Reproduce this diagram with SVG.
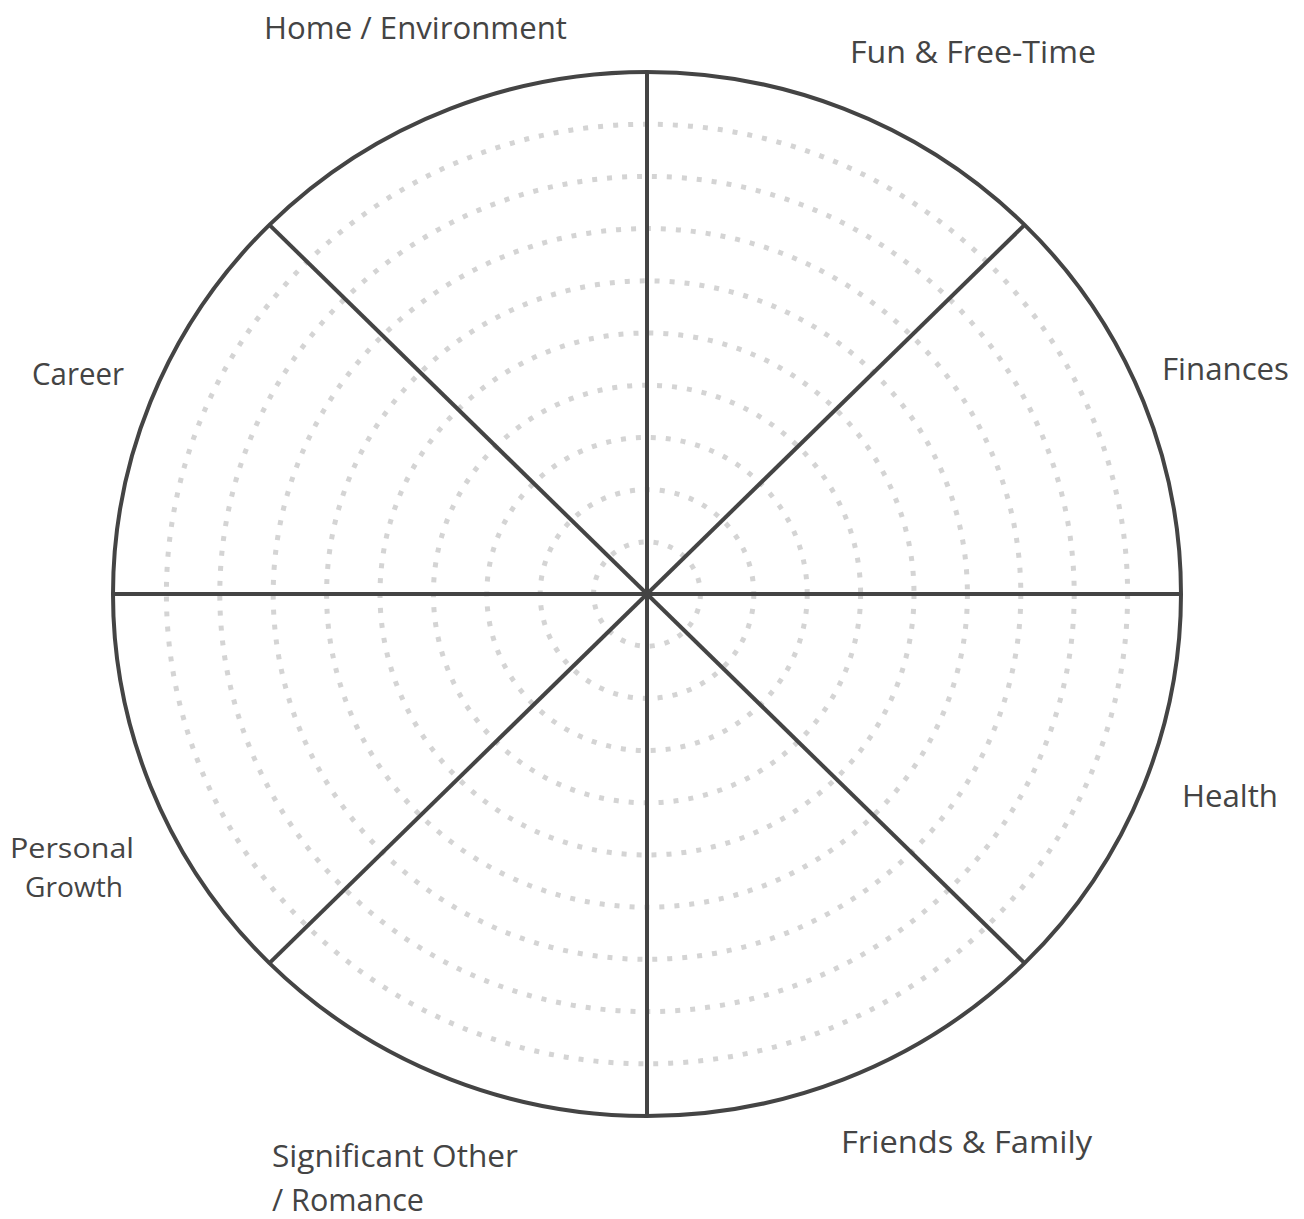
<svg xmlns="http://www.w3.org/2000/svg" width="1304" height="1219" viewBox="0 0 1304 1219">
<style>
.lbl{font-family:"Open Sans","Noto Sans",sans-serif;font-size:31px;fill:#444;}
.tight{font-size:28px;}
.ring{fill:none;stroke:#d4d4d4;stroke-width:5;stroke-dasharray:5 10;}
.spoke{stroke:#444;stroke-width:4;stroke-linecap:butt;}
</style>
<rect width="1304" height="1219" fill="#fff"/>
<g id="rings">
<ellipse class="ring" cx="647" cy="594" rx="53.4" ry="52.2"/>
<ellipse class="ring" cx="647" cy="594" rx="106.8" ry="104.4"/>
<ellipse class="ring" cx="647" cy="594" rx="160.2" ry="156.6"/>
<ellipse class="ring" cx="647" cy="594" rx="213.6" ry="208.8"/>
<ellipse class="ring" cx="647" cy="594" rx="267" ry="261"/>
<ellipse class="ring" cx="647" cy="594" rx="320.4" ry="313.2"/>
<ellipse class="ring" cx="647" cy="594" rx="373.8" ry="365.4"/>
<ellipse class="ring" cx="647" cy="594" rx="427.2" ry="417.6"/>
<ellipse class="ring" cx="647" cy="594" rx="480.6" ry="469.8"/>
</g>
<g id="wheel">
<ellipse cx="647" cy="594" rx="534" ry="522" fill="none" stroke="#444" stroke-width="4"/>
</g>
<g id="connectors">
<line class="spoke" x1="647" y1="72" x2="647" y2="1116"/>
<line class="spoke" x1="113" y1="594" x2="1181" y2="594"/>
<line class="spoke" x1="269.4" y1="224.9" x2="1024.6" y2="963.1"/>
<line class="spoke" x1="1024.6" y1="224.9" x2="269.4" y2="963.1"/>
</g>
<g id="home"><text class="lbl" x="264" y="39" textLength="303" lengthAdjust="spacingAndGlyphs">Home / Environment</text></g>
<g id="fun"><text class="lbl" x="850" y="63" textLength="246" lengthAdjust="spacingAndGlyphs">Fun &amp; Free-Time</text></g>
<g id="finances"><text class="lbl" x="1162" y="380" textLength="127" lengthAdjust="spacingAndGlyphs">Finances</text></g>
<g id="career"><text class="lbl" x="32" y="385" textLength="92" lengthAdjust="spacingAndGlyphs">Career</text></g>
<g id="health"><text class="lbl" x="1182" y="807" textLength="96" lengthAdjust="spacingAndGlyphs">Health</text></g>
<g id="personal"><text class="lbl tight"><tspan x="10" y="858" textLength="124" lengthAdjust="spacingAndGlyphs">Personal</tspan><tspan x="25" y="897" textLength="98" lengthAdjust="spacingAndGlyphs">Growth</tspan></text></g>
<g id="friends"><text class="lbl" x="841" y="1153" textLength="251" lengthAdjust="spacingAndGlyphs">Friends &amp; Family</text></g>
<g id="significant"><text class="lbl"><tspan x="272" y="1167" textLength="246" lengthAdjust="spacingAndGlyphs">Significant Other</tspan><tspan x="272" y="1211" textLength="152" lengthAdjust="spacingAndGlyphs">/ Romance</tspan></text></g>
</svg>
